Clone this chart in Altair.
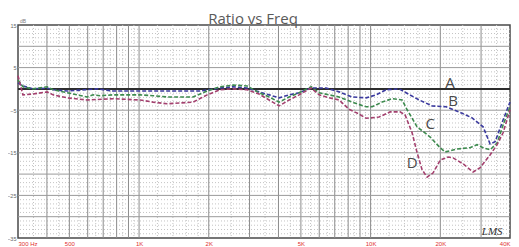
import altair as alt
import pandas as pd

# ---- data -------------------------------------------------------------
B_freq = [300, 315, 348, 401, 425, 489, 659, 772, 1010, 1321, 1834, 2238, 2547, 2929, 3297, 3645,
          4025, 4446, 4910, 5533, 6427, 7311, 8318, 9567, 10560, 11670, 13280, 14230, 16210, 18450,
          21190, 24110, 27440, 30620, 32810, 34490, 37340, 40000]
B_db = [1.4, 0.7, 0, 0.2, -0.2, -0.5, 0, -0.5, -0.5, -0.5, -0.5, 0.2, 0.5, 0.2, -0.7, -1.4,
        -2.1, -1.4, -0.9, 0.2, 0.2, -0.7, -1.9, -2.1, -1.4, -0.2, 0, -0.9, -2.6, -4.0,
        -4.2, -5.4, -6.8, -8.9, -12.9, -12.4, -7.3, -3.1]

C_freq = [300, 315, 348, 401, 425, 489, 596, 633, 679, 772, 888, 1010, 1149, 1321, 1711, 1967,
          2238, 2547, 2929, 3297, 3645, 4025, 4446, 4910, 5533, 5995, 6620, 7311, 8318, 9567,
          10145, 11210, 12390, 13680, 14380, 15880, 18080, 19960, 20980, 23640, 26900, 28840,
          30620, 32810, 35190, 37340, 40000]
C_db = [2.1, 0.5, 0, 0.5, -0.2, -0.9, -1.9, -1.4, -1.6, -1.4, -1.4, -1.4, -1.6, -1.9, -1.9, -0.5,
        0.5, 0.9, 0.7, -0.9, -1.9, -3.1, -1.9, -0.9, 0.5, -0.9, -1.4, -1.9, -3.1, -4.2,
        -4.2, -3.1, -2.3, -2.6, -4.9, -8.9, -11.3, -13.8, -14.8, -14.1, -13.8, -13.1,
        -13.8, -14.3, -12.7, -8.5, -4.2]

D_freq = [300, 315, 348, 401, 425, 489, 596, 772, 1010, 1149, 1321, 1503, 1711, 1967, 2238, 2547,
          2929, 3297, 3645, 4025, 4446, 4910, 5533, 5995, 6620, 7311, 8075, 8915, 9567, 10880,
          12140, 13410, 14090, 15110, 15880, 16690, 17540, 18630, 20000, 21600, 22710, 25100,
          27710, 29720, 32810, 35190, 37340, 40000]
D_db = [3.1, -1.4, -1.2, -0.7, -1.4, -2.1, -2.6, -2.3, -2.6, -3.1, -3.5, -3.3, -3.1, -1.4, -0.2, 0,
        -0.2, -1.2, -2.6, -4.0, -2.6, -1.4, 0.2, -1.4, -2.1, -2.6, -4.8, -5.9, -6.9, -6.6,
        -5.4, -5.4, -6.1, -10.3, -15.0, -19.0, -20.7, -19.7, -16.7, -16.0, -16.2, -17.6,
        -19.5, -18.5, -15.5, -13.1, -10.3, -4.9]

A_freq = [300, 40000]
A_db = [0, 0]

series_names = ["B", "C", "D"]
series_colors = ["#3b3a9e", "#3d8a4e", "#a3406e"]

label_text = ["A", "B", "C", "D"]
label_freq = [22050, 22710, 18080, 15110]
label_db = [1.4, -2.8, -8.2, -17.4]

x_tick_values = [300, 500, 1000, 2000, 5000, 10000, 20000, 40000]
y_tick_values = [15, 10, 5, 0, -5, -10, -15, -20, -25, -30, -35]

major_vgrid = [400, 500, 600, 700, 800, 900, 1000, 2000, 3000, 4000, 5000, 6000, 7000, 8000,
               9000, 10000, 20000, 30000]
minor_vgrid = [350, 450, 550, 650, 750, 850, 950, 1200, 1400, 1600, 1800, 2500, 3500, 4500,
               5500, 6500, 7500, 8500, 9500, 12000, 14000, 16000, 18000, 25000, 35000]
major_hgrid = [10, 5, -5, -10, -15, -20, -25, -30]
minor_hgrid = [v for v in range(-34, 15) if v % 5 != 0]

title_text = "Ratio vs Freq"
signature = "LMS"

# ---- build ------------------------------------------------------------
rows = []
for name, fr, db in (("B", B_freq, B_db), ("C", C_freq, C_db), ("D", D_freq, D_db)):
    for f, d in zip(fr, db):
        rows.append({"series": name, "freq": f, "db": d})
curves = pd.DataFrame(rows)
a_df = pd.DataFrame({"freq": A_freq, "db": A_db})
labels_df = pd.DataFrame({"t": label_text, "freq": label_freq, "db": label_db})

xscale = alt.Scale(type="log", domain=[300, 40000], nice=False, zero=False)
yscale = alt.Scale(domain=[-35, 15], nice=False, zero=False)

xaxis = alt.Axis(values=x_tick_values, title=None, grid=False, ticks=False, domain=False,
                 labelFontSize=6, labelColor="#e03030", labelPadding=2, labelFont="Liberation Sans",
                 labelOverlap=False, labelFlush=True, labelBound=False,
                 labelExpr="datum.value == 300 ? '300 Hz' : (datum.value >= 1000 ? (datum.value/1000) + 'K' : datum.value)")
yaxis = alt.Axis(values=y_tick_values, title=None, grid=False, ticks=False, domain=False,
                 labelFontSize=5.5, labelColor="#666666", labelPadding=2, labelFont="Liberation Sans",
                 labelOverlap=False, labelFlush=False, labelBound=False)

minor_v = alt.Chart(pd.DataFrame({"f": minor_vgrid})).mark_rule(
    color="#c4c4c4", strokeWidth=1, strokeDash=[1, 2]).encode(
    x=alt.X("f:Q", scale=xscale, axis=xaxis))
minor_h = alt.Chart(pd.DataFrame({"d": minor_hgrid})).mark_rule(
    color="#c4c4c4", strokeWidth=1, strokeDash=[1, 2]).encode(
    y=alt.Y("d:Q", scale=yscale, axis=yaxis))
major_v = alt.Chart(pd.DataFrame({"f": major_vgrid})).mark_rule(
    color="#8c8c8c", strokeWidth=1).encode(x=alt.X("f:Q", scale=xscale))
major_h = alt.Chart(pd.DataFrame({"d": major_hgrid})).mark_rule(
    color="#9a9a9a", strokeWidth=1).encode(y=alt.Y("d:Q", scale=yscale))

a_line = alt.Chart(a_df).mark_line(color="#2e2e2e", strokeWidth=2).encode(
    x=alt.X("freq:Q", scale=xscale), y=alt.Y("db:Q", scale=yscale))

lines = alt.Chart(curves).mark_line(strokeWidth=1.6, strokeDash=[4, 2]).encode(
    x=alt.X("freq:Q", scale=xscale),
    y=alt.Y("db:Q", scale=yscale),
    color=alt.Color("series:N", scale=alt.Scale(domain=series_names, range=series_colors), legend=None),
    detail="series:N",
)

letters = alt.Chart(labels_df).mark_text(fontSize=15, color="#4a4a4a", font="Open Sans").encode(
    x=alt.X("freq:Q", scale=xscale), y=alt.Y("db:Q", scale=yscale), text="t:N")

sig = alt.Chart(pd.DataFrame({"t": [signature], "freq": [33500], "db": [-33.6]})).mark_text(
    fontSize=11, fontStyle="italic", color="#333333", font="Liberation Serif").encode(
    x=alt.X("freq:Q", scale=xscale), y=alt.Y("db:Q", scale=yscale), text="t:N")

title = alt.Chart(pd.DataFrame({"t": [title_text]})).mark_text(
    fontSize=15, color="#5a5a5a", font="Open Sans", baseline="alphabetic").encode(
    x=alt.value(235), y=alt.value(-1), text="t:N")

unit = alt.Chart(pd.DataFrame({"t": ["dB"]})).mark_text(
    fontSize=5, color="#7a7a7a", font="Liberation Sans", align="left").encode(
    x=alt.value(2), y=alt.value(-4), text="t:N")

chart = alt.layer(minor_v, minor_h, major_v, major_h, a_line, lines, letters, sig, title, unit).properties(
    width=492, height=213,
    autosize=alt.AutoSizeParams(type="none"),
    padding={"left": 10, "top": 17, "right": 1, "bottom": 9},
    background="white",
).configure_view(stroke="#4a4a4a", strokeWidth=1.5)

chart.save("out.html", embed_options={"renderer": "svg", "actions": False})
